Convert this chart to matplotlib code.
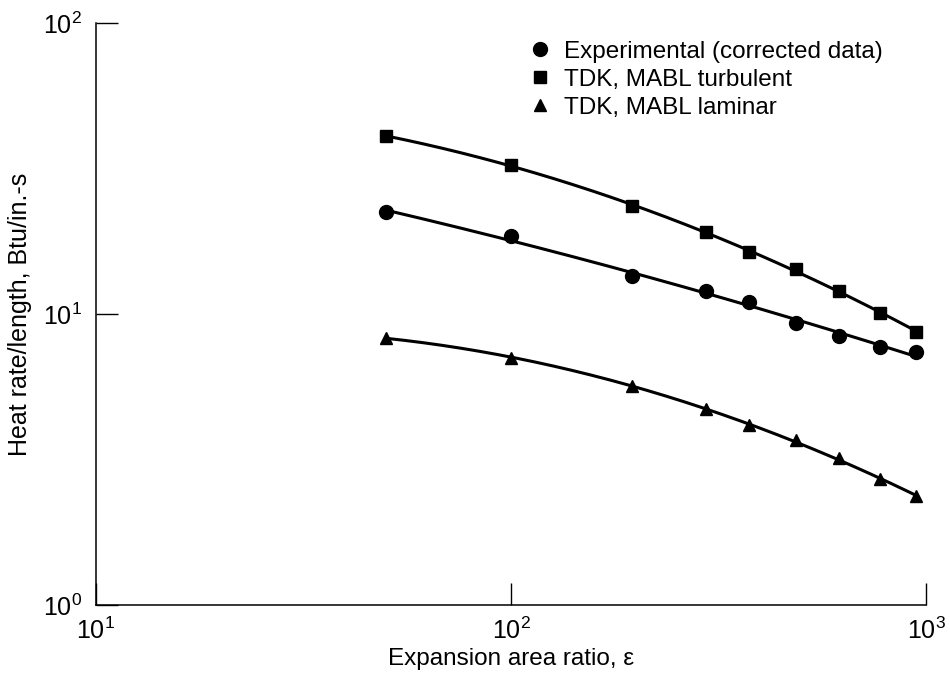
import numpy as np
import matplotlib
matplotlib.use("Agg")
import matplotlib.pyplot as plt

plt.rcParams['font.family'] = ['Liberation Sans', 'DejaVu Sans']
plt.rcParams['mathtext.default'] = 'regular'

# values (log-log)
eps = [50, 100, 195, 295, 375, 485, 615, 775, 945]
q_exp = [22.4, 18.5, 13.5, 12.0, 11.0, 9.3, 8.4, 7.7, 7.4]
q_turb = [40.9, 32.5, 23.5, 19.1, 16.3, 14.3, 12.0, 10.1, 8.7]
q_lam = [8.3, 7.05, 5.65, 4.7, 4.15, 3.7, 3.2, 2.7, 2.36]

labels = ["Experimental (corrected data)", "TDK, MABL turbulent", "TDK, MABL laminar"]
markers = ["o", "s", "^"]
msizes = [10, 9, 9]

fig = plt.figure(figsize=(9.5, 6.79), dpi=100)
ax = fig.add_axes([0.101, 0.109, 0.874, 0.857])

xs = np.logspace(np.log10(eps[0]), np.log10(eps[-1]), 200)
for q, m, ms, lab in zip([q_exp, q_turb, q_lam], markers, msizes, labels):
    # smooth curve through the points (quadratic fit in log-log space)
    c = np.polyfit(np.log10(eps), np.log10(q), 2)
    ax.plot(xs, 10 ** np.polyval(c, np.log10(xs)), color='black', lw=2.2)
    ax.plot(eps, q, m, color='black', ms=ms, label=lab)

ax.set_xscale('log')
ax.set_yscale('log')
ax.set_xlim(10, 1000)
ax.set_ylim(1, 100)
ax.xaxis.set_major_locator(matplotlib.ticker.LogLocator(base=10, numticks=5))
ax.yaxis.set_major_locator(matplotlib.ticker.LogLocator(base=10, numticks=5))
ax.xaxis.set_minor_locator(matplotlib.ticker.NullLocator())
ax.yaxis.set_minor_locator(matplotlib.ticker.NullLocator())

for s in ['top', 'right']:
    ax.spines[s].set_visible(False)
for s in ['left', 'bottom']:
    ax.spines[s].set_linewidth(1.1)

ax.tick_params(direction='in', length=16, width=1, labelsize=18)
ax.tick_params(axis='x', pad=9)
ax.tick_params(axis='y', pad=10)

ax.set_xlabel("Expansion area ratio, ε", fontsize=17.5, labelpad=3)
ax.set_ylabel("Heat rate/length, Btu/in.-s", fontsize=18, labelpad=8)

ax.legend(loc='upper left', bbox_to_anchor=(0.505, 0.995), frameon=False,
          fontsize=17.5, handlelength=0.8, handletextpad=0.6,
          labelspacing=0.25, borderaxespad=0.2, numpoints=1)

fig.savefig("out.png", dpi=100)
